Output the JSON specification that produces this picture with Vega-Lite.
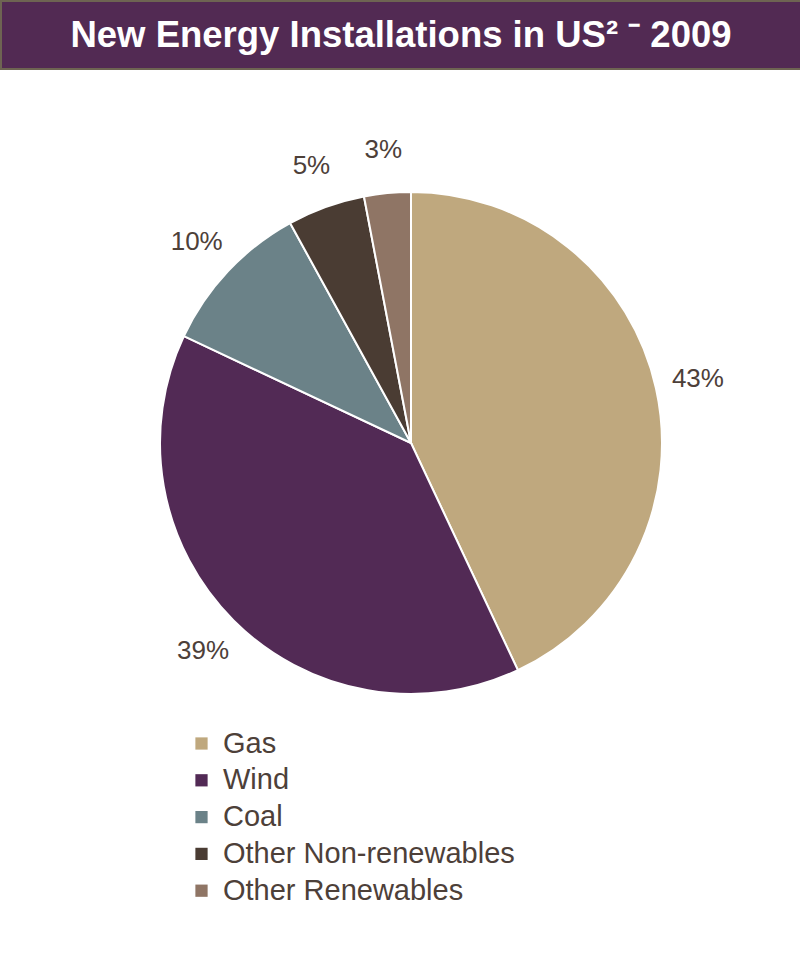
{
  "$schema": "https://vega.github.io/schema/vega-lite/v6.json",
  "padding": 0,
  "background": "white",
  "spacing": 0,
  "config": {"view": {"stroke": null}},
  "datasets": {
    "shares": [
      {"i": 1, "source": "Gas", "pct": 43, "label": "43%"},
      {"i": 2, "source": "Wind", "pct": 39, "label": "39%"},
      {"i": 3, "source": "Coal", "pct": 10, "label": "10%"},
      {"i": 4, "source": "Other Non-renewables", "pct": 5, "label": "5%"},
      {"i": 5, "source": "Other Renewables", "pct": 3, "label": "3%"}
    ],
    "heading": [
      {"title": "New Energy Installations in US² ⁻ 2009"}
    ]
  },
  "vconcat": [
    {
      "width": 800,
      "height": 68,
      "view": {"fill": "#522a53", "stroke": "#6e6452", "strokeWidth": 2},
      "data": {"name": "heading"},
      "mark": {"type": "text", "font": "Liberation Sans", "fontWeight": "bold", "fontSize": 36.5, "color": "white", "baseline": "middle", "align": "center", "dy": 1},
      "encoding": {"text": {"field": "title"}}
    },
    {
      "width": 820,
      "height": 746,
      "data": {"name": "shares"},
      "encoding": {
        "theta": {"field": "pct", "type": "quantitative", "stack": true},
        "order": {"field": "i", "type": "ordinal"},
        "color": {
          "field": "source",
          "type": "nominal",
          "sort": ["Gas", "Wind", "Coal", "Other Non-renewables", "Other Renewables"],
          "scale": {
            "domain": ["Gas", "Wind", "Coal", "Other Non-renewables", "Other Renewables"],
            "range": ["#bfa87e", "#522a55", "#6b8288", "#4a3c33", "#8f7565"]
          },
          "legend": {
            "title": null,
            "orient": "none",
            "legendX": 186,
            "legendY": 728,
            "padding": 0,
            "symbolType": "square",
            "symbolSize": 150,
            "symbolStrokeWidth": 0,
            "symbolOpacity": 1,
            "labelFont": "Liberation Sans",
            "labelFontSize": 29,
            "labelColor": "#4d4039",
            "labelOffset": 7,
            "labelLimit": 500,
            "rowPadding": 6.8
          }
        }
      },
      "layer": [
        {
          "mark": {"type": "arc", "outerRadius": 251, "stroke": "white", "strokeWidth": 2}
        },
        {
          "mark": {"type": "text", "radius": 294, "font": "Liberation Sans", "fontSize": 26, "color": "#4d4039", "align": "center", "baseline": "middle"},
          "encoding": {
            "text": {"field": "label", "type": "nominal"},
            "color": {"value": "#4d4039"}
          }
        }
      ]
    }
  ]
}
